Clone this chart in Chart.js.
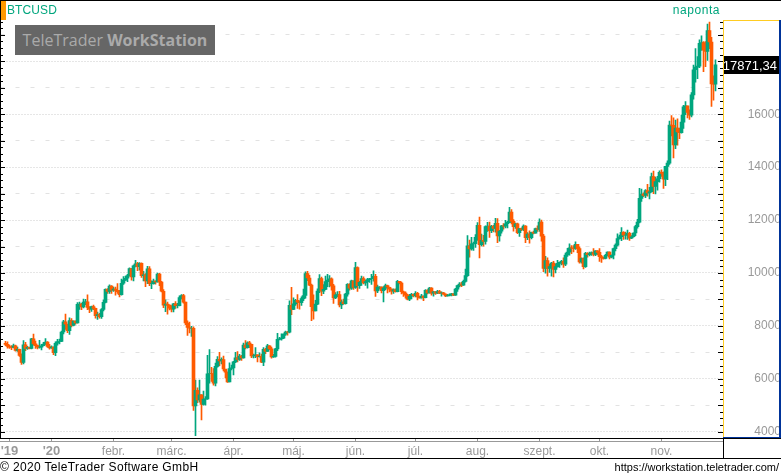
<!DOCTYPE html>
<html>
<head>
<meta charset="utf-8">
<title>BTCUSD</title>
<script src="https://cdn.jsdelivr.net/npm/chart.js@4"></script>
<style>
  html, body { margin: 0; padding: 0; background: #fff; overflow: hidden; }
  #wrap { position: relative; width: 781px; height: 476px; font-family: "Liberation Sans", Arial, sans-serif; }
  #wrap canvas { position: absolute; left: 0; top: 0; }
  .txt { position: absolute; white-space: nowrap; font-size: 12px; line-height: 14px; }
  #symbol { left: 7px; top: 3px; color: #00a67e; letter-spacing: .1px; }
  #period { right: 61px; top: 3px; color: #00a67e; letter-spacing: .55px; }
  #logo { left: 15px; top: 25px; width: 200px; height: 30px; background: #666; color: #aaa; font: 16px/30px "Open Sans", sans-serif; text-align: center; }
  #logo b { font-weight: 700; }
  #copy { left: 0; top: 460px; color: #000; letter-spacing: .35px; }
  #url { right: 2px; top: 460px; color: #000; font-size: 11px; }
</style>
</head>
<body>
<div id="wrap">
  <canvas id="chart" width="781" height="476"></canvas>
  <div class="txt" id="symbol">BTCUSD</div>
  <div class="txt" id="period">naponta</div>
  <div class="txt" id="logo">TeleTrader <b>WorkStation</b></div>
  <div class="txt" id="copy">© 2020 TeleTrader Software GmbH</div>
  <div class="txt" id="url">https://workstation.teletrader.com/</div>
</div>
<script>
// daily candles, 2019-12-09 .. 2020-11-28, one line per month
const opens = [
  7340,7300,7220,7200,7190,7250,7070,7110,6880,6620,7280,7150,7190,7145,7510,7320,7255,7200,7200,7250,7310,7390,7220,
  7170,7200,6985,7345,7410,7410,7770,8150,8060,7820,8200,8020,8180,8110,8810,8820,8720,8900,8910,8700,8630,8730,8660,8390,8430,8350,8620,8890,9380,9300,9500,
  9350,9390,9345,9290,9180,9610,9730,9800,9900,10170,9850,10270,10350,10240,10360,9900,9930,9700,10160,9600,9600,9690,9660,9960,9660,9310,8780,8820,8790,
  8670,8630,8830,8760,8760,9070,9150,8900,8110,7940,7910,7910,4970,5560,5200,5390,5030,5230,5240,6190,6200,6190,5830,6470,6740,6680,6730,6370,6250,5880,6390,
  6410,6640,6790,6730,6860,6790,7270,7180,7360,7300,6860,6870,6910,6840,6850,6630,7110,7030,7250,7130,6830,6850,7130,7490,7510,7540,7690,7770,7760,8780,
  8620,8830,8970,8900,8880,9030,9150,9980,9810,9540,8730,8570,8820,9320,9790,9310,9380,9670,9730,9780,9510,9060,9170,9180,8790,8900,8840,9200,9570,9430,9700,
  9450,10200,9520,9650,9790,9620,9670,9750,9780,9790,9870,9320,9470,9470,9330,9430,9520,9460,9390,9310,9360,9290,9680,9620,9290,9240,9160,9010,9120,9190,
  9140,9230,9090,9060,9130,9070,9340,9250,9430,9240,9290,9240,9300,9240,9250,9200,9130,9150,9170,9210,9160,9390,9520,9580,9535,9680,9900,11030,10910,11100,11110,
  11350,11800,11070,11230,11190,11750,11770,11600,11760,11680,11880,11400,11580,11780,11770,11860,11910,12300,11950,11750,11860,11520,11680,11650,11770,11330,11470,11330,11540,11500,11680,
  11650,11920,11390,10170,10470,10170,10240,10370,10130,10240,10360,10400,10440,10330,10680,10790,10950,10940,10930,11080,10920,10420,10540,10240,10740,10690,10730,10770,10700,10840,
  10780,10620,10570,10550,10670,10790,10600,10670,10920,11050,11300,11370,11540,11430,11430,11500,11320,11370,11510,11750,11920,12820,12980,12930,13110,13030,13070,13640,13270,13450,13560,
  13800,13760,13550,14030,14150,15590,15580,14840,15480,15330,15300,15700,16280,16320,16070,15960,16730,17680,17780,17820,18680,18710,18420,18370,19160,18730,17150,17140
];
const highs = [
  7420,7400,7270,7260,7310,7270,7200,7120,6940,7440,7380,7230,7200,7530,7690,7430,7270,7450,7300,7380,7520,7410,7300,
  7250,7210,7400,7490,7500,7800,8210,8450,8070,8300,8280,8190,8190,8880,8900,8850,9010,9000,9170,8730,8750,8790,8670,8520,8470,8650,8980,9400,9410,9550,9520,
  9470,9470,9600,9340,9770,9860,9880,9950,10190,10180,10300,10480,10400,10390,10380,10060,9980,10250,10240,9700,9770,9700,10000,9990,9680,9370,8980,8900,8800,
  8770,8850,8920,8850,9140,9180,9190,8900,8190,8140,7980,7960,5950,5660,5950,5400,5540,5330,6890,7100,6430,6390,6590,6840,7000,6790,6860,6290,6250,6600,6520,
  6660,7000,7030,6920,6890,7350,7440,7400,7420,7310,6930,7180,6910,6980,6930,7180,7150,7300,7260,7200,6920,7150,7720,7570,7700,7700,7800,7790,8950,9460,
  9060,9000,9180,8950,9100,9390,10040,10060,9910,9580,9170,8970,9400,9940,9840,9560,9880,9950,9900,9820,9570,9260,9300,9310,8980,9010,9230,9600,9600,9730,9700,
  10400,10230,9680,9880,9850,9730,9800,9800,9950,10080,9950,9540,9490,9480,9490,9580,9540,9470,9400,9400,9400,9720,9680,9660,9320,9290,9190,9190,9230,9200,
  9300,9270,9130,9190,9140,9370,9370,9460,9450,9310,9300,9340,9340,9290,9270,9210,9190,9210,9230,9220,9420,9540,9640,9650,9730,10150,11410,11240,11350,11170,11450,
  11900,12110,11470,11420,11780,11910,11920,11800,11800,12070,12060,11610,11800,11870,11990,11950,12480,12400,12020,11890,11890,11690,11710,11820,11790,11530,11590,11550,11580,11700,11780,
  12050,12000,11460,10630,10570,10340,10400,10440,10350,10480,10410,10480,10570,10750,10930,11100,11040,11040,11180,11050,10990,10570,10570,10780,10770,10790,10800,10920,10850,10850,
  10920,10670,10600,10700,10800,10800,10690,10940,11100,11480,11430,11720,11560,11550,11620,11540,11410,11520,11800,12030,13200,13170,13030,13150,13350,13240,13780,13850,13620,13650,13860,
  13900,13820,13840,14240,15740,15950,15860,15780,15830,15480,15970,16340,16480,16310,16170,16820,17860,18480,18180,18810,18960,18750,18750,19410,19480,18910,17450,18060
];
const lows = [
  7250,7160,7150,7100,7170,7040,7030,6850,6540,6560,7060,7110,7130,7130,7270,7150,7130,7160,7090,7240,7300,7190,7120,
  7150,6910,6870,7270,7320,7400,7700,7870,7740,7680,7960,8000,8060,8100,8620,8610,8680,8800,8610,8500,8550,8610,8290,8240,8290,8280,8570,8870,9230,9230,9230,
  9300,9160,9230,9090,9160,9570,9720,9670,9880,9730,9700,10230,10090,10110,9830,9700,9480,9600,9520,9410,9580,9580,9650,9520,9280,8690,8540,8440,8600,
  8530,8530,8660,8680,8750,9020,8860,8050,7640,7730,7600,4800,3850,5100,5120,4450,5000,5000,5220,5830,5900,5760,5730,6440,6500,6560,6300,6030,5860,5880,6340,
  6150,6610,6640,6690,6690,6780,7130,7160,7180,6800,6790,6800,6640,6820,6610,6500,6950,7030,7100,6780,6810,6820,7060,7470,7460,7520,7640,7650,7730,8420,
  8610,8770,8660,8630,8770,8950,9050,9710,9520,8200,8250,8570,8800,9260,9140,9220,9370,9480,9470,9350,8850,9030,9100,8720,8650,8810,8820,9120,9350,9380,9380,
  9420,9300,9420,9530,9590,9530,9430,9640,9570,9690,9110,9260,9390,9250,8910,9370,9250,9280,9200,9230,9270,9280,9590,9210,9110,9050,8980,8950,9020,9090,
  9090,8980,9050,9050,8950,9060,9210,9240,9160,9120,9190,9220,9220,9120,9190,9100,9120,9130,9130,9140,9150,9300,9470,9480,9530,9650,9870,10600,10860,10850,10970,
  11230,10570,11020,11010,11090,11570,11340,11520,11550,11540,11150,11200,11500,11660,11700,11700,11900,11850,11580,11680,11490,11380,11600,11600,11150,11260,11130,11290,11480,11500,11570,
  11570,11200,10050,9990,9880,10020,9880,9850,10000,10220,10210,10300,10210,10280,10630,10670,10730,10800,10890,10770,10370,10370,10150,10210,10600,10640,10660,10640,10650,10680,
  10440,10400,10520,10530,10640,10530,10570,10530,10830,11020,11280,11220,11270,11280,11270,11230,11300,11350,11410,11690,11890,12700,12880,12850,12900,12800,13050,13000,12990,13130,13430,
  13650,13200,13300,13530,14100,15180,14350,14700,14830,15080,15280,15460,15980,15860,15800,15900,16570,17210,17340,17760,18410,17610,17800,18030,18480,16300,16530,16880
];
const closes = [
  7300,7220,7200,7190,7250,7070,7110,6880,6620,7280,7150,7190,7145,7510,7320,7255,7200,7200,7250,7310,7390,7220,7170,
  7200,6985,7345,7410,7410,7770,8150,8060,7820,8200,8020,8180,8110,8810,8820,8720,8900,8910,8700,8630,8730,8660,8390,8430,8350,8620,8890,9380,9300,9500,9350,
  9390,9345,9290,9180,9610,9730,9800,9900,10170,9850,10270,10350,10240,10360,9900,9930,9700,10160,9600,9600,9690,9660,9960,9660,9310,8780,8820,8790,8670,
  8630,8830,8760,8760,9070,9150,8900,8110,7940,7910,7910,4970,5560,5200,5390,5030,5230,5240,6190,6200,6190,5830,6470,6740,6680,6730,6370,6250,5880,6390,6410,
  6640,6790,6730,6860,6790,7270,7180,7360,7300,6860,6870,6910,6840,6850,6630,7110,7030,7250,7130,6830,6850,7130,7490,7510,7540,7690,7770,7760,8780,8620,
  8830,8970,8900,8880,9030,9150,9980,9810,9540,8730,8570,8820,9320,9790,9310,9380,9670,9730,9780,9510,9060,9170,9180,8790,8900,8840,9200,9570,9430,9700,9450,
  10200,9520,9650,9790,9620,9670,9750,9780,9790,9870,9320,9470,9470,9330,9430,9520,9460,9390,9310,9360,9290,9680,9620,9290,9240,9160,9010,9120,9190,9140,
  9230,9090,9060,9130,9070,9340,9250,9430,9240,9290,9240,9300,9240,9250,9200,9130,9150,9170,9210,9160,9390,9520,9580,9535,9680,9900,11030,10910,11100,11110,11350,
  11800,11070,11230,11190,11750,11770,11600,11760,11680,11880,11400,11580,11780,11770,11860,11910,12300,11950,11750,11860,11520,11680,11650,11770,11330,11470,11330,11540,11500,11680,11650,
  11920,11390,10170,10470,10170,10240,10370,10130,10240,10360,10400,10440,10330,10680,10790,10950,10940,10930,11080,10920,10420,10540,10240,10740,10690,10730,10770,10700,10840,10780,
  10620,10570,10550,10670,10790,10600,10670,10920,11050,11300,11370,11540,11430,11430,11500,11320,11370,11510,11750,11920,12820,12980,12930,13110,13030,13070,13640,13270,13450,13560,13800,
  13760,13550,14030,14150,15590,15580,14840,15480,15330,15300,15700,16280,16320,16070,15960,16730,17680,17780,17820,18680,18710,18420,18370,19160,18730,17150,17140,17871.34
];
const xTickDates = ['2019-12-11','2020-01-01','2020-02-01','2020-03-01','2020-04-01','2020-05-01','2020-06-01','2020-07-01','2020-08-01','2020-09-01','2020-10-01','2020-11-01'];
const xTickLabels = ["'19","'20",'febr.','márc.','ápr.','máj.','jún.','júl.','aug.','szept.','okt.','nov.'];
const yTickLabels = [4000,6000,8000,10000,12000,14000,16000,18000];

const GREEN = '#00a67e', ORANGE = '#ff5a00', GREY = '#999';

// the axis starts two days before the first candle and runs three days past the last
const days = [];
for (let i = 0; i < 361; i++) {
  days.push(new Date(Date.UTC(2019, 11, 7 + i)).toISOString().slice(0, 10));
}
const wicks = days.map((d, i) => i < 2 || i - 2 >= closes.length ? null : [lows[i - 2], highs[i - 2]]);
const bodies = days.map((d, i) => i < 2 || i - 2 >= closes.length ? null : [opens[i - 2], closes[i - 2]]);
const candleColor = ctx => {
  const i = ctx.dataIndex - 2;
  return closes[i] >= opens[i] ? GREEN : ORANGE;
};

const frame = {
  id: 'frame',
  afterDraw(chart) {
    const c = chart.ctx, a = chart.chartArea, y = chart.scales.y;
    const rect = (col, x, yy, w, h) => { c.fillStyle = col; c.fillRect(x, yy, w, h); };
    const R = Math.round(a.right), B = Math.round(a.bottom);
    // tick marks on both sides of the plot, long ones on labelled values
    y.ticks.forEach((t, i) => {
      const py = Math.round(y.getPixelForTick(i));
      if (py < 22) return;
      const len = t.value % 1000 === 0 ? 5 : 3;
      rect('#000', 0, py, len, 1);
      rect('#000', R - len, py, len, 1);
    });
    rect('#000', 0, 0, 781, 1);
    rect('#000', 0, 0, 1, B);
    rect('#ff9900', 1, 1, 5, 19);
    // x strip
    rect('#000', 0, B, 781, 1);
    rect('#999', 0, B + 3, R, 1);
    rect('#000', 0, B + 20, 781, 1);
    rect('#000', R, B, 1, 20);
    // price panel
    rect('#ffcc22', R, 20, 1, B - 20);
    rect('#ffcc22', R, 20, 57, 1);
    rect('#003399', 779, 20, 2, B - 20);
    rect('#003399', R, B - 1, 59, 1);
    // last price
    const last = closes[closes.length - 1];
    const py = Math.round(y.getPixelForValue(last));
    rect('#000', R + 1, py - 9, 55, 18);
    c.fillStyle = '#fff';
    c.font = '13px "Liberation Sans", Arial, sans-serif';
    c.textAlign = 'right';
    c.textBaseline = 'middle';
    c.fillText(String(last).replace('.', ','), R + 54, py + 1);
  }
};

new Chart(document.getElementById('chart'), {
  type: 'bar',
  data: {
    labels: days,
    datasets: [
      { label: 'BTCUSD', data: bodies, backgroundColor: candleColor, barThickness: 3, grouped: false, borderWidth: 0, borderSkipped: false },
      { label: 'BTCUSD high/low', data: wicks, backgroundColor: candleColor, barThickness: 1, grouped: false, borderWidth: 0, borderSkipped: false }
    ]
  },
  options: {
    responsive: false,
    animation: false,
    events: [],
    layout: { padding: { left: 0.5, top: 5, right: 0, bottom: 18 } },
    plugins: { legend: { display: false }, tooltip: { enabled: false } },
    scales: {
      x: {
        offset: true,
        afterFit(s) { s.height = 20; s.paddingLeft = 0; s.paddingRight = 0; },
        border: { display: false },
        grid: {
          offset: false,
          drawOnChartArea: false,
          tickLength: 3,
          tickColor: ctx => ctx.tick && xTickDates.includes(days[ctx.index]) ? '#999' : 'transparent'
        },
        ticks: {
          autoSkip: false,
          maxRotation: 0,
          padding: 3,
          color: GREY,
          font: ctx => {
            const k = xTickDates.indexOf(days[ctx.index]);
            return k >= 0 && k < 2
              ? { family: '"Liberation Sans", Arial, sans-serif', size: 13, weight: 'bold' }
              : { family: '"Liberation Sans", Arial, sans-serif', size: 12 };
          },
          callback(v, i) {
            const k = xTickDates.indexOf(days[i]);
            return k >= 0 ? xTickLabels[k] : '';
          }
        }
      },
      y: {
        position: 'right',
        min: 3762,
        max: 20129,
        afterFit(s) { s.width = 58.5; s.paddingTop = 0; s.paddingBottom = 0; },
        border: {
          display: false,
          dash: ctx => ctx.tick && ctx.tick.value % 2000 === 0 ? [1, 2] : [4, 11]
        },
        grid: {
          drawTicks: false,
          color: ctx => {
            if (!ctx.tick || ctx.tick.value > 19000) return 'transparent';
            if (ctx.tick.value % 2000 === 0) return '#cccccc';
            return ctx.tick.value % 1000 === 0 ? '#e2e2e2' : 'transparent';
          }
        },
        ticks: {
          stepSize: 250,
          autoSkip: false,
          includeBounds: false,
          crossAlign: 'far',
          padding: 19,
          color: GREY,
          font: { family: '"Liberation Sans", Arial, sans-serif', size: 12 },
          callback: v => yTickLabels.includes(v) ? String(v) : ''
        }
      }
    }
  },
  plugins: [frame]
});
</script>
</body>
</html>
